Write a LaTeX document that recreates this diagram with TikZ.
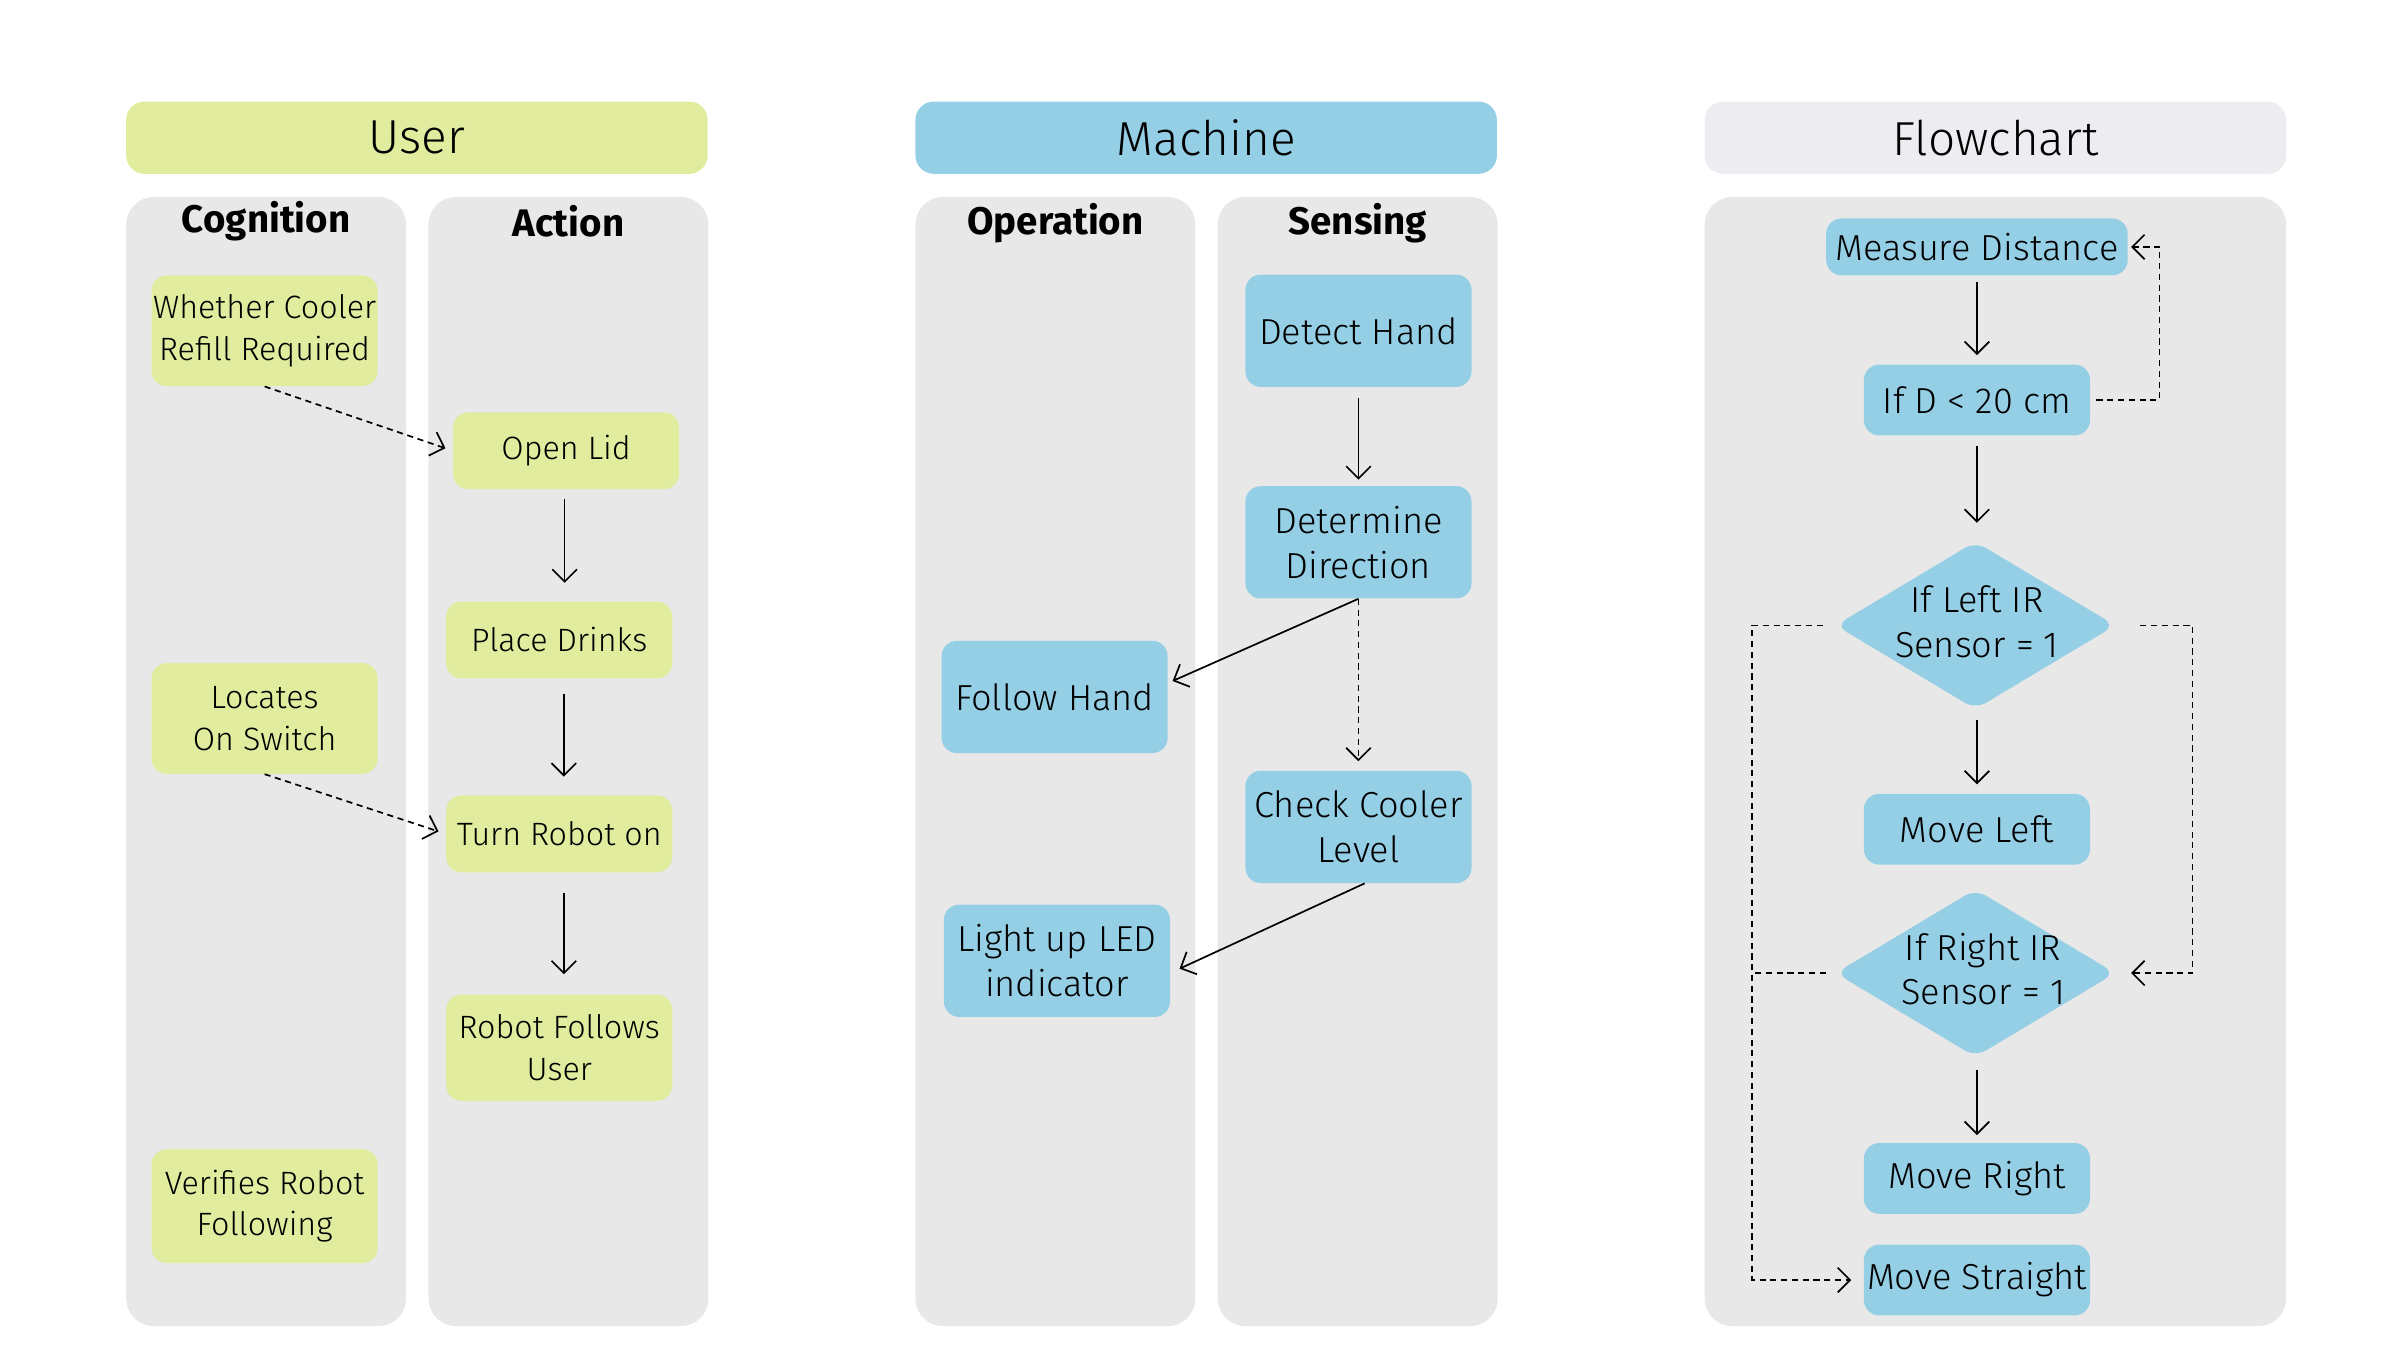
\documentclass[tikz,border=0pt]{standalone}
\usepackage{fontspec}
\setmainfont{Fira Sans Light}[BoldFont={Fira Sans Bold}]
\usetikzlibrary{shapes.geometric, positioning, arrows.meta}

\definecolor{usergreen}{HTML}{E1EC9E}
\definecolor{machineblue}{HTML}{94CFE6}
\definecolor{lanegray}{HTML}{E8E8E8}
\definecolor{flowgray}{HTML}{EDECF0}

\begin{document}
\begin{tikzpicture}[x=1pt, y=-1pt]

        % Setup the styles for lanes, boxes and links
        \tikzset{lane/.style={fill=lanegray,
                              rounded corners=18pt,
                              minimum width=182pt,
                              minimum height=734pt,
                              inner sep=0pt
                              },
                 header/.style={rounded corners=12pt,
                                minimum width=378pt,
                                minimum height=47pt,
                                font=\fontsize{31}{36}\selectfont
                                },
                 lane title/.style={font=\bfseries\fontsize{25}{28}\selectfont},
                 user box/.style={fill=usergreen,
                                  rounded corners=10pt,
                                  minimum width=147pt,
                                  align=center,
                                  inner sep=0pt,
                                  font=\fontsize{21}{27}\selectfont
                                  },
                 machine box/.style={fill=machineblue,
                                     rounded corners=10pt,
                                     minimum width=147pt,
                                     minimum height=73pt,
                                     align=center,
                                     inner sep=0pt,
                                     font=\fontsize{23.5}{29}\selectfont
                                     },
                 flow box/.style={machine box, minimum height=46pt},
                 flow diamond/.style={diamond,
                                      fill=machineblue,
                                      rounded corners=8pt,
                                      minimum width=182pt,
                                      minimum height=109pt,
                                      inner sep=0pt
                                      },
                 diamond text/.style={align=center, font=\fontsize{23.5}{29}\selectfont},
                 link/.style={line width=1.1pt, -{Straight Barb[length=8pt,width=16pt]}},
                 dashed link/.style={link, dash pattern=on 4pt off 3pt}}

        \useasboundingbox (0,0) rectangle (1560,877.5);

        % Draw the headers and the lanes
        \node[header, fill=usergreen]   at (271, 89.5)  (User)      {User};
        \node[header, fill=machineblue] at (784, 89.5)  (Machine)   {Machine};
        \node[header, fill=flowgray]    at (1297, 89.5) (Flowchart) {Flowchart};

        \node[lane] at (173, 495)   (Cognition lane) {};
        \node[lane] at (369.5, 495) (Action lane)    {};
        \node[lane] at (686, 495)   (Operation lane) {};
        \node[lane] at (882.5, 495) (Sensing lane)   {};
        \node[lane, minimum width=378pt] at (1297, 495) (Flow lane) {};

        \node[lane title] at (173, 144)   (Cognition) {Cognition};
        \node[lane title] at (369.5, 144) (Action)    {Action};
        \node[lane title] at (686, 145)   (Operation) {Operation};
        \node[lane title] at (882.5, 145) (Sensing)   {Sensing};

        % Draw the user states
        \node[user box, minimum height=72pt] at (172, 215)   (Refill)   {Whether Cooler\\Refill Required};
        \node[user box, minimum height=50pt] at (368, 293)   (OpenLid)  {Open Lid};
        \node[user box, minimum height=50pt] at (363.5, 416) (Drinks)   {Place Drinks};
        \node[user box, minimum height=72pt] at (172, 467)   (Locates)  {Locates\\On Switch};
        \node[user box, minimum height=50pt] at (363.5, 542) (TurnOn)   {Turn Robot on};
        \node[user box, minimum height=69pt] at (363.5, 681) (Follows)  {Robot Follows\\User};
        \node[user box, minimum height=74pt] at (172, 784)   (Verifies) {Verifies Robot\\Following};

        % Draw the machine states
        \node[machine box] at (883, 215)   (Detect)    {Detect Hand};
        \node[machine box] at (883, 352.5) (Direction) {Determine\\Direction};
        \node[machine box] at (685.5, 453) (FollowHand){Follow Hand};
        \node[machine box] at (883, 537.5) (Level)     {Check Cooler\\Level};
        \node[machine box] at (687, 624.5) (LED)       {Light up LED\\indicator};

        % Draw the flowchart
        \node[flow box, minimum width=196pt, minimum height=37pt] at (1285, 160.5) (Measure) {Measure Distance};
        \node[flow box] at (1285, 260) (Distance)  {If D < 20 cm};
        \node[flow diamond] at (1284, 406.5) (LeftIR) {};
        \node[diamond text] at (1285, 404) (LeftIR text) {If Left IR\\Sensor = 1};
        \node[flow box] at (1285, 539)  (MoveLeft)  {Move Left};
        \node[flow diamond] at (1284, 632.5) (RightIR) {};
        \node[diamond text] at (1289, 630) (RightIR text) {If Right IR\\Sensor = 1};
        \node[flow box] at (1285, 766)  (MoveRight) {Move Right};
        \node[flow box] at (1285, 832)  (Straight)  {Move Straight};
        \coordinate (Rail) at (1139, 0);

        % Connect the user states
        \draw[dashed link, shorten >=5pt] (Refill.south) -- (OpenLid.west);
        \draw[dashed link, shorten >=5pt] (Locates.south) -- (TurnOn.west);
        \draw[link, shorten <=6pt, shorten >=12pt] ([xshift=-1pt]OpenLid.south) -- ([xshift=-1pt]OpenLid.south |- Drinks.north);
        \draw[link, shorten <=10pt, shorten >=12pt] ([xshift=3pt]Drinks.south) -- ([xshift=3pt]Drinks.south |- TurnOn.north);
        \draw[link, shorten <=13pt, shorten >=13pt] ([xshift=3pt]TurnOn.south) -- ([xshift=3pt]TurnOn.south |- Follows.north);

        % Connect the machine states
        \draw[link, shorten <=7pt, shorten >=4pt] (Detect.south) -- (Direction.north);
        \draw[link] (Direction.south) -- ([xshift=3pt]FollowHand.8);
        \draw[dashed link, shorten >=6pt] (Direction.south) -- (Level.north);
        \draw[link] ([xshift=4pt]Level.south) -- ([xshift=6pt]LED.-4);

        % Connect the flowchart
        \draw[link, shorten <=4pt, shorten >=6pt] (Measure.south) -- (Distance.north);
        \draw[link, shorten <=7pt, shorten >=12pt] (Distance.south) -- ([xshift=1pt]LeftIR.north);
        \draw[link, shorten <=7pt, shorten >=6pt] ([xshift=1pt]LeftIR.south) -- (MoveLeft.north);
        \draw[link, shorten <=8pt, shorten >=5pt] ([xshift=1pt]RightIR.south) -- (MoveRight.north);
        \draw[dashed link, shorten <=4pt, shorten >=2pt] (Distance.east) -- ++(45,0) |- (Measure.east);
        \draw[dashed link, shorten <=16pt, shorten >=10pt] (LeftIR.east) -- ++(50,0) |- (RightIR.east);
        \draw[dashed link, shorten <=8pt, shorten >=8pt] (LeftIR.west) -| (Rail |- Straight.west) -- (Straight.west);
        \draw[line width=1.1pt, dash pattern=on 4pt off 3pt, shorten <=6pt] (RightIR.west) -- (Rail |- RightIR.west);

      \end{tikzpicture}
\end{document}
